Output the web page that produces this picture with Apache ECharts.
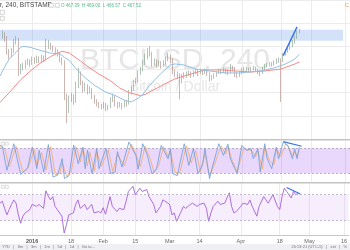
<!DOCTYPE html>
<html><head><meta charset="utf-8">
<script src="https://cdn.jsdelivr.net/npm/echarts@6/dist/echarts.min.js"></script>
<style>html,body{margin:0;padding:0;background:#fff;overflow:hidden}#c{width:350px;height:250px}</style>
</head><body><div id="c"></div>
<script>
// ---- data ----
const startDate = '2015-12-18';
const dayCount = 153;
const tickLabels = [['2016-01-01','2016'],['2016-01-18','18'],['2016-02-01','Feb'],['2016-02-15','15'],['2016-03-01','Mar'],['2016-03-14','14'],['2016-04-01','Apr'],['2016-04-18','18'],['2016-05-01','May'],['2016-05-16','16']];
const priceTicks = [350, 375, 400, 425, 450, 475, 500];

const opens  = [457,461,463,460,445,440,445,455,458,423,428,429,432,434,432,436,434,437,435,438,436,450,453,449,447,445,442,436,434,397,381,394,396,391,407,421,411,404,407,402,404,397,391,388,386,385,387,383,384,392,396,388,386,387,385,389,388,400,404,411,413,421,425,432,439,445,443,432,434,430,432,430,432,436,439,436,423,421,419,413,417,419,420,421,419,421,423,421,423,422,423,421,415,417,419,421,423,423,424,423,422,428,426,420,419,421,424,425,425,424,425,426,425,423,421,425,428,430,431,430,432,434,435,434,441,445,447,451,455,460,465];
const closes = [461,463,460,445,440,445,455,458,423,428,429,432,434,432,436,434,437,435,438,436,450,453,449,447,445,442,436,434,397,381,394,396,391,407,421,411,404,407,402,404,397,391,388,386,385,387,383,384,392,396,388,386,387,385,389,388,400,404,411,413,421,425,432,439,445,443,432,434,430,432,430,432,436,439,436,423,421,419,413,417,419,420,421,419,421,423,421,423,422,423,421,415,417,419,421,423,423,424,423,422,428,426,420,419,421,424,425,425,424,425,426,425,423,421,425,428,430,431,430,432,434,435,434,441,445,447,451,455,460,465,467.5];
const lows   = [454,458,455,441,436,438,443,452,418,420,424,426,430,428,430,431,432,432,433,433,435,447,446,444,442,439,433,430,392,367,378,390,387,389,405,408,400,401,398,399,393,388,385,383,382,383,380,381,383,390,385,383,384,382,384,385,387,398,402,409,411,419,423,430,436,439,428,429,427,428,426,428,430,434,432,420,417,415,393,410,415,416,418,416,417,420,418,420,419,420,418,412,413,415,417,420,420,421,420,419,421,423,417,416,417,420,422,423,422,423,424,423,420,418,420,424,427,428,428,429,431,432,390,433,440,443,446,449,453,458,464];
const highs  = [466,467,465,461,447,448,458,461,459,431,432,435,437,436,439,438,440,439,441,440,458,457,454,451,449,447,443,438,435,399,397,400,398,412,427,423,413,411,409,407,405,398,393,390,388,390,389,387,395,399,397,390,390,389,392,391,403,407,414,416,424,428,435,442,448,450,444,437,436,435,434,435,439,443,441,437,425,423,421,420,422,423,424,423,424,426,425,426,425,426,425,422,419,421,423,426,426,427,426,425,431,429,427,422,423,427,428,428,427,428,429,428,426,424,428,431,432,433,433,435,437,438,437,443,447,449,454,457,462,467,469];

const maFast = [[0,418],[2,427.7],[4,436.2],[7,443.6],[9,448.9],[10,450],[13,449],[17,446],[22,442.6],[26,442],[28,438],[30,435],[33,426],[37,416],[41,408],[46,400.5],[50,397],[54,392],[57,390],[60,394],[62,398],[65,408],[70,421],[74,430],[76,431],[80,429.8],[85,425.5],[91,423.4],[98,421.3],[104,421.3],[113,423.4],[119,426.6],[124,431],[128,436.2],[130,441.5]];
const maSlow = [[0,389.4],[4,400],[9,414],[13,423],[17,431],[22,439],[25,442.6],[27,444.7],[30,443],[35,434],[39,426.6],[43,420],[48,412.8],[52,405],[56,400],[61,396.8],[63,398],[70,407.4],[76,414.9],[83,420.2],[89,424.5],[96,424.5],[102,423.4],[109,422.3],[115,423.4],[122,425.5],[128,430.9],[130,433]];
const trendMain = [[123,440],[129,471]];
const resistanceZone = [456, 468];

const stochK = [[0,87],[1,85],[3,27],[6,91],[9,17],[12,33],[14,83],[16,31],[17,75],[19,23],[21,89],[23,11],[25,15],[27,55],[28,7],[30,14],[32,88],[34,43],[36,83],[37,31],[38,75],[40,19],[42,79],[43,31],[46,80],[48,19],[50,23],[51,72],[53,35],[56,95],[59,63],[60,30],[62,91],[64,63],[66,18],[68,31],[70,87],[73,55],[74,79],[75,19],[77,14],[80,91],[82,39],[84,79],[86,19],[88,40],[89,79],[91,7],[92,30],[95,91],[97,63],[99,90],[100,55],[102,31],[103,19],[105,87],[107,75],[109,79],[110,55],[112,79],[113,23],[115,91],[116,55],[118,31],[120,83],[121,55],[123,95],[124,91],[125,87],[127,55],[128,79],[129,55],[130,83]];
const stochD = [[0,84],[2,80],[4,35],[7,85],[10,22],[12,30],[15,78],[16,38],[18,70],[20,28],[22,84],[24,16],[26,20],[27,45],[29,12],[31,25],[33,84],[35,48],[36,78],[38,38],[39,70],[41,25],[42,72],[44,36],[47,76],[49,24],[51,65],[54,38],[57,90],[59,66],[61,36],[63,86],[65,58],[67,22],[69,40],[71,84],[73,60],[74,74],[76,22],[78,20],[81,86],[83,45],[85,74],[87,24],[89,66],[91,14],[93,38],[96,86],[98,66],[99,84],[101,48],[103,24],[106,82],[107,76],[109,76],[111,60],[112,74],[114,30],[115,84],[117,50],[119,40],[120,78],[122,60],[124,90],[125,86],[127,62],[128,72],[129,60],[130,76]];
const stochTrend = [[123,96],[131,85]];
const stochBand = [20, 80];

const rsi = [[0,57],[1,60],[2,49],[3,39],[4,47],[5,55],[6,62],[7,57],[8,39],[9,26],[10,37],[11,42],[13,47],[14,55],[16,52],[17,55],[19,49],[20,76],[21,68],[22,62],[23,67],[24,52],[25,47],[27,37],[28,11],[29,24],[30,39],[32,42],[33,55],[34,62],[35,49],[37,55],[38,47],[40,55],[41,42],[43,44],[44,42],[45,50],[46,40],[48,67],[49,52],[51,44],[52,49],[54,47],[55,60],[56,75],[58,83],[59,70],[61,80],[62,75],[64,78],[65,67],[67,55],[68,42],[70,52],[71,62],[72,60],[74,55],[75,39],[76,42],[77,29],[79,44],[80,52],[81,49],[83,55],[84,57],[86,52],[87,55],[89,57],[90,49],[91,29],[92,42],[93,52],[95,60],[96,55],[98,57],[100,73],[101,52],[102,42],[103,44],[105,52],[106,57],[108,55],[109,62],[110,52],[112,37],[113,52],[115,67],[116,62],[117,57],[119,70],[121,52],[122,47],[123,67],[124,80],[125,75],[127,65],[128,75],[129,70],[130,72]];
const rsiTrend = [[125,81],[131,71]];
const rsiBand = [30, 70];

// ---- build ----
const categories = [];
const d0 = new Date(startDate + 'T00:00:00Z');
for (let k = 0; k < dayCount; k++) {
  categories.push(new Date(d0.getTime() + k * 86400000).toISOString().slice(0, 10));
}
const tickMap = {};
tickLabels.forEach(t => tickMap[t[0]] = t[1]);
const isTick = (idx, val) => tickMap[val] !== undefined;
const candles = opens.map((o, k) => [o, closes[k], lows[k], highs[k]]);

const gridLine = { show: true, lineStyle: { color: '#ececec', width: 1 } };
function xAx(gi, showLabel) {
  return {
    type: 'category', gridIndex: gi, data: categories, boundaryGap: false,
    axisLine: { show: showLabel, lineStyle: { color: '#c9c9c9' } },
    axisTick: { show: false },
    axisLabel: {
      show: showLabel, interval: isTick, margin: 3, fontSize: 5.5, color: '#666',
      fontFamily: 'Liberation Sans',
      formatter: v => tickMap[v] === '2016' ? '{b|2016}' : (tickMap[v] || ''),
      rich: { b: { fontWeight: 'bold', fontSize: 5.5, color: '#555', fontFamily: 'Liberation Sans' } }
    },
    splitLine: { show: true, interval: isTick, lineStyle: { color: '#ececec', width: 1 } }
  };
}
const chart = echarts.init(document.getElementById('c'), null, { renderer: 'canvas' });
chart.setOption({
  animation: false,
  backgroundColor: '#ffffff',
  grid: [
    { left: 0, right: 0, top: -2, height: 141 },
    { left: 0, right: 0, top: 140, height: 41.5 },
    { left: 0, right: 0, top: 183, height: 52 }
  ],
  xAxis: [xAx(0, false), xAx(1, false), xAx(2, true)],
  yAxis: [
    { type: 'value', gridIndex: 0, min: priceTicks[0], max: priceTicks[priceTicks.length - 1], interval: 25,
      axisLabel: { show: false }, axisLine: { show: false }, axisTick: { show: false }, splitLine: gridLine },
    { type: 'value', gridIndex: 1, min: 0, max: 100, axisLabel: { show: false }, axisLine: { show: false }, axisTick: { show: false }, splitLine: { show: false } },
    { type: 'value', gridIndex: 2, min: 8, max: 88, axisLabel: { show: false }, axisLine: { show: false }, axisTick: { show: false }, splitLine: { show: false } }
  ],
  series: [
    { type: 'candlestick', xAxisIndex: 0, yAxisIndex: 0, data: candles, barWidth: 1, z: 3,
      itemStyle: { color: '#8aa995', color0: '#b39089', borderColor: '#7f9e8a', borderColor0: '#a8857e', borderWidth: 0.6 },
      markArea: { silent: true, itemStyle: { color: 'rgba(110,155,235,0.30)' },
        data: [[{ yAxis: resistanceZone[0], xAxis: 0 }, { yAxis: resistanceZone[1], xAxis: 149 }]] } },
    { type: 'line', xAxisIndex: 0, yAxisIndex: 0, data: maSlow, symbol: 'none', lineStyle: { color: '#f38a8a', width: 1 }, z: 4 },
    { type: 'line', xAxisIndex: 0, yAxisIndex: 0, data: maFast, symbol: 'none', lineStyle: { color: '#94bfe2', width: 1 }, z: 4 },
    { type: 'line', xAxisIndex: 0, yAxisIndex: 0, data: trendMain, symbol: 'none', lineStyle: { color: '#3474e6', width: 1.4 }, z: 5 },

    { type: 'line', xAxisIndex: 1, yAxisIndex: 1, data: stochD, symbol: 'none', lineStyle: { color: '#f1ab6c', width: 0.8 }, z: 3,
      markArea: { silent: true, itemStyle: { color: 'rgba(165,90,240,0.24)' }, data: [[{ yAxis: stochBand[0] }, { yAxis: stochBand[1] }]] },
      markLine: { silent: true, symbol: 'none', label: { show: false }, lineStyle: { color: '#a79fb8', type: [2, 2], width: 0.8 },
        data: [{ yAxis: stochBand[0] }, { yAxis: stochBand[1] }] } },
    { type: 'line', xAxisIndex: 1, yAxisIndex: 1, data: stochK, symbol: 'none', lineStyle: { color: '#6b9ad8', width: 0.8 }, z: 4 },
    { type: 'line', xAxisIndex: 1, yAxisIndex: 1, data: stochTrend, symbol: 'none', lineStyle: { color: '#3474e6', width: 1.2 }, z: 5 },

    { type: 'line', xAxisIndex: 2, yAxisIndex: 2, data: rsi, symbol: 'none', lineStyle: { color: '#a560d8', width: 0.9 }, z: 4,
      markArea: { silent: true, itemStyle: { color: 'rgba(175,100,240,0.11)' }, data: [[{ yAxis: rsiBand[0] }, { yAxis: rsiBand[1] }]] },
      markLine: { silent: true, symbol: 'none', label: { show: false }, lineStyle: { color: '#b4a8c6', type: [2, 2], width: 0.8 },
        data: [{ yAxis: rsiBand[0] }, { yAxis: rsiBand[1] }] } },
    { type: 'line', xAxisIndex: 2, yAxisIndex: 2, data: rsiTrend, symbol: 'none', lineStyle: { color: '#3474e6', width: 1.2 }, z: 5 }
  ],
  graphic: [
    { type: 'text', left: 'center', top: 46, z: 0, style: { text: 'BTCUSD, 240', font: '30px "Liberation Sans"', fill: '#e6e6e6' } },
    { type: 'text', left: 'center', top: 80, z: 0, style: { text: 'Bitcoin / Dollar', font: '14px "Liberation Sans"', fill: '#e6e6e6' } },
    { type: 'text', left: 0, top: 2, z: 10, style: { text: 'r, 240, BITSTAMP  ·', font: '6.5px "Liberation Sans"', fill: '#444' } },
    { type: 'rect', left: 49, top: 3, z: 10, shape: { width: 4, height: 4 }, style: { fill: '#fff', stroke: '#bbb', lineWidth: 0.6 } },
    { type: 'rect', left: 55, top: 3, z: 10, shape: { width: 4, height: 4 }, style: { fill: '#fff', stroke: '#bbb', lineWidth: 0.6 } },
    { type: 'text', left: 61, top: 3, z: 10, style: { text: 'O 467.39  H 469.00  L 466.57  C 467.52', font: '4.5px "Liberation Sans"', fill: '#53b987' } },
    { type: 'rect', left: 0, top: 10, z: 10, shape: { width: 4, height: 4 }, style: { fill: '#fff', stroke: '#bbb', lineWidth: 0.6 } },
    { type: 'rect', left: 0, top: 16, z: 10, shape: { width: 4, height: 4 }, style: { fill: '#fff', stroke: '#bbb', lineWidth: 0.6 } },
    { type: 'text', right: 1, top: 2, z: 10, style: { text: 'C', font: '6px "Liberation Sans"', fill: '#f0a050' } },
    { type: 'rect', left: 0, top: 139, z: 10, shape: { width: 350, height: 1.5 }, style: { fill: '#c4c4c4' } },
    { type: 'rect', left: 0, top: 182, z: 10, shape: { width: 350, height: 1.5 }, style: { fill: '#c4c4c4' } },
    { type: 'rect', left: 1, top: 142, z: 10, shape: { width: 3, height: 3 }, style: { fill: '#fff', stroke: '#bbb', lineWidth: 0.5 } },
    { type: 'rect', left: 5, top: 142, z: 10, shape: { width: 3, height: 3 }, style: { fill: '#fff', stroke: '#bbb', lineWidth: 0.5 } },
    { type: 'rect', left: 1, top: 185, z: 10, shape: { width: 3, height: 3 }, style: { fill: '#fff', stroke: '#bbb', lineWidth: 0.5 } },
    { type: 'rect', left: 5, top: 185, z: 10, shape: { width: 3, height: 3 }, style: { fill: '#fff', stroke: '#bbb', lineWidth: 0.5 } },
    { type: 'rect', left: 0, top: 244, z: 10, shape: { width: 350, height: 6 }, style: { fill: '#eef0f3' } },
    { type: 'text', left: 2, top: 245, z: 11, style: { text: 'YTD   |   6m   |   3m   |   1m   |   5d   |   1d   |   Go to...', font: '4px "Liberation Sans"', fill: '#777' } },
    { type: 'text', right: 3, top: 245, z: 11, style: { text: '20:53:21 (UTC-5)   |   ext   |   %', font: '4px "Liberation Sans"', fill: '#777' } }
  ]
});
</script>
</body></html>
